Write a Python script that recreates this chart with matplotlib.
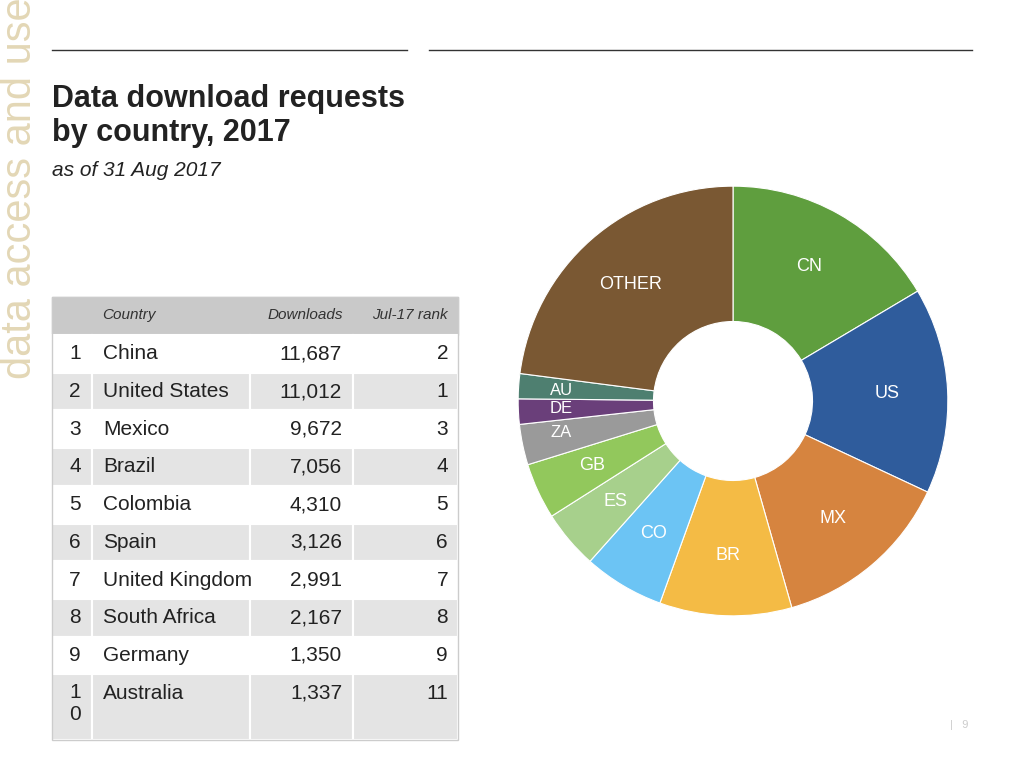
import matplotlib.pyplot as plt
from matplotlib.patches import Rectangle

ranks = ["1", "2", "3", "4", "5", "6", "7", "8", "9", "1\n0"]
countries = ["China", "United States", "Mexico", "Brazil", "Colombia", "Spain",
             "United Kingdom", "South Africa", "Germany", "Australia"]
downloads = [11687, 11012, 9672, 7056, 4310, 3126, 2991, 2167, 1350, 1337]
jul_rank = [2, 1, 3, 4, 5, 6, 7, 8, 9, 11]

codes = ["CN", "US", "MX", "BR", "CO", "ES", "GB", "ZA", "DE", "AU", "OTHER"]
other = 16300
pie_values = downloads + [other]
colors = ["#5f9e3e", "#2f5c9c", "#d6843f", "#f4bb45", "#6cc4f4", "#a7d08c",
          "#92c85c", "#9a9a9a", "#6a3f7a", "#4e7f70", "#7a5833"]

plt.rcParams["font.family"] = "Liberation Sans"
fig = plt.figure(figsize=(10.24, 7.68), dpi=100)
ax = fig.add_axes([0, 0, 1, 1])
ax.set_xlim(0, 1024)
ax.set_ylim(768, 0)
ax.axis("off")

ax.text(20, 188, "data access and use", rotation=90, ha="center", va="center",
        fontsize=30, color="#e3d7b6")
ax.plot([52, 407], [50, 50], color="#333333", lw=1)
ax.plot([429, 972], [50, 50], color="#333333", lw=1)
ax.text(52, 116, "Data download requests\nby country, 2017", fontsize=22, weight="bold",
        va="center", color="#222222", linespacing=1.2)
ax.text(52, 171, "as of 31 Aug 2017", fontsize=15, style="italic", va="center",
        color="#222222")

# table
cols = [52, 92, 250, 353, 458]
ax.add_patch(Rectangle((52, 297), 406, 38, color="#c9c9c9"))
for x0, x1, t, al in [(92, 250, "Country", "left"), (250, 353, "Downloads", "right"),
                      (353, 458, "Jul-17 rank", "right")]:
    ax.text(x0 + 10 if al == "left" else x1 - 10, 315, t, fontsize=11, style="italic",
            ha=al, va="center", color="#333333")
y = 335
for i in range(len(countries)):
    h = 66 if i == len(countries) - 1 else 37.7
    bg = "white" if i % 2 == 0 else "#e4e4e4"
    for c0, c1 in zip(cols[:-1], cols[1:]):
        ax.add_patch(Rectangle((c0, y), c1 - c0, h, facecolor=bg, edgecolor="white", lw=1.5))
    ty = y + 18.8
    ax.text(81, ty if i < 9 else ty + 10, ranks[i], fontsize=15, ha="right",
            va="center", color="#222222", linespacing=1.2)
    ax.text(103, ty, countries[i], fontsize=15, va="center", color="#222222")
    ax.text(342, ty, f"{downloads[i]:,}", fontsize=15, ha="right", va="center", color="#222222")
    ax.text(448, ty, str(jul_rank[i]), fontsize=15, ha="right", va="center", color="#222222")
    y += h
ax.add_patch(Rectangle((52, 297), 406, y - 297, fill=False, edgecolor="#cccccc", lw=1))
ax.text(968, 725, "|   9", fontsize=8, color="#cccccc", ha="right", va="center")

# donut
pax = fig.add_axes([(733 - 217) / 1024, 1 - (401 + 217) / 768, 434 / 1024, 434 / 768])
wedges, texts = pax.pie(pie_values, colors=colors, startangle=90, counterclock=False,
                        labels=codes, labeldistance=0.72,
                        wedgeprops=dict(width=0.63, edgecolor="white", linewidth=0.8),
                        textprops=dict(color="white", fontsize=13))
for t, c in zip(texts, codes):
    t.set_ha("center")
    if c in ("AU", "DE", "ZA"):
        x, yy = t.get_position()
        t.set_position((-0.8, yy))
        t.set_fontsize(12)
pax.set_xlim(-1.01, 1.01)
pax.set_ylim(-1.01, 1.01)
pax.set_aspect("equal")

fig.savefig("out.png", dpi=100)
